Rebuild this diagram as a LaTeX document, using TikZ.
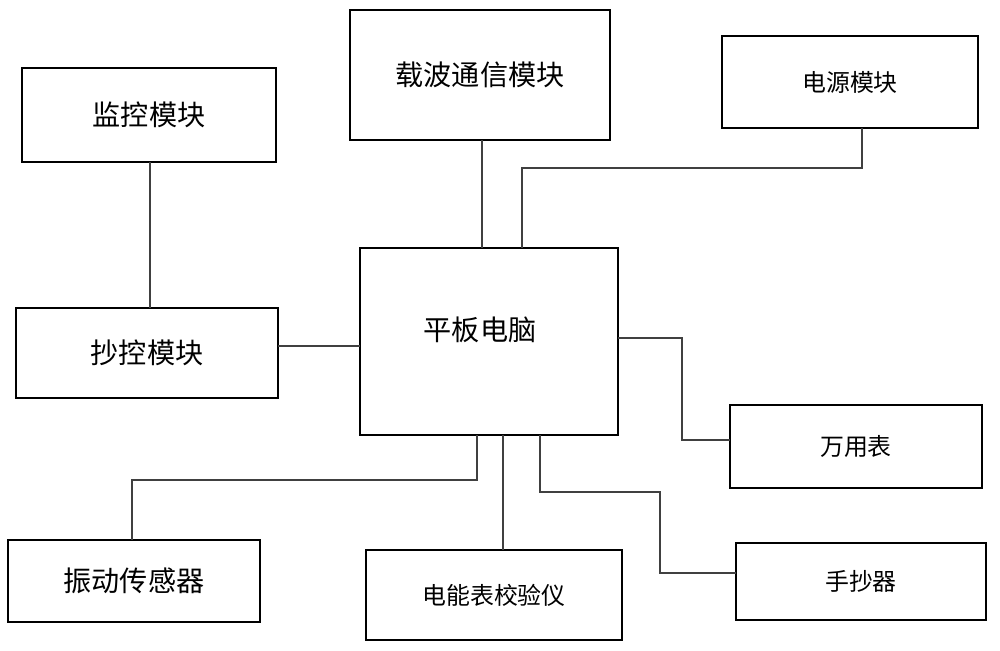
\documentclass[tikz,border=0pt]{standalone}
\usepackage{fontspec}
\setmainfont{Noto Sans CJK SC}
\begin{document}
\begin{tikzpicture}[x=0.025cm,y=-0.025cm,
  box/.style={draw,line width=1.4pt,inner sep=0pt},
  wire/.style={draw,line width=1.2pt,black!75}]
\useasboundingbox (0,0) rectangle (1000,651);
% boxes
\draw[box] (22,68) rectangle (276,162) node[midway,font=\fontsize{20}{24}\selectfont] (jk) {监控模块};
\draw[box] (350,10) rectangle (610,140) node[midway,font=\fontsize{20}{24}\selectfont] (zb) {载波通信模块};
\draw[box] (722,36) rectangle (978,128) node[midway,font=\fontsize{17}{20}\selectfont] (dy) {电源模块};
\draw[box] (16,308) rectangle (278,398) node[midway,font=\fontsize{20}{24}\selectfont] (ck) {抄控模块};
\draw[box] (360,248) rectangle (618,435);
\node[font=\fontsize{20}{24}\selectfont] (pb) at (480,330) {平板电脑};
\draw[box] (730,405) rectangle (982,488) node[midway,font=\fontsize{17}{20}\selectfont] (wy) {万用表};
\draw[box] (8,540) rectangle (260,622) node[midway,font=\fontsize{20}{24}\selectfont] (zd) {振动传感器};
\draw[box] (366,550) rectangle (622,640) node[midway,font=\fontsize{17}{20}\selectfont] (jy) {电能表校验仪};
\draw[box] (736,543) rectangle (986,620) node[midway,font=\fontsize{17}{20}\selectfont] (sc) {手抄器};
% connectors
\draw[wire] (150,162) -- (150,308);
\draw[wire] (278,346) -- (360,346);
\draw[wire] (482,140) -- (482,248);
\draw[wire] (862,128) -- (862,168) -- (522,168) -- (522,248);
\draw[wire] (618,338) -- (682,338) -- (682,440) -- (730,440);
\draw[wire] (540,435) -- (540,492) -- (660,492) -- (660,573) -- (736,573);
\draw[wire] (477,435) -- (477,480) -- (132,480) -- (132,540);
\draw[wire] (503,435) -- (503,550);
\end{tikzpicture}
\end{document}
